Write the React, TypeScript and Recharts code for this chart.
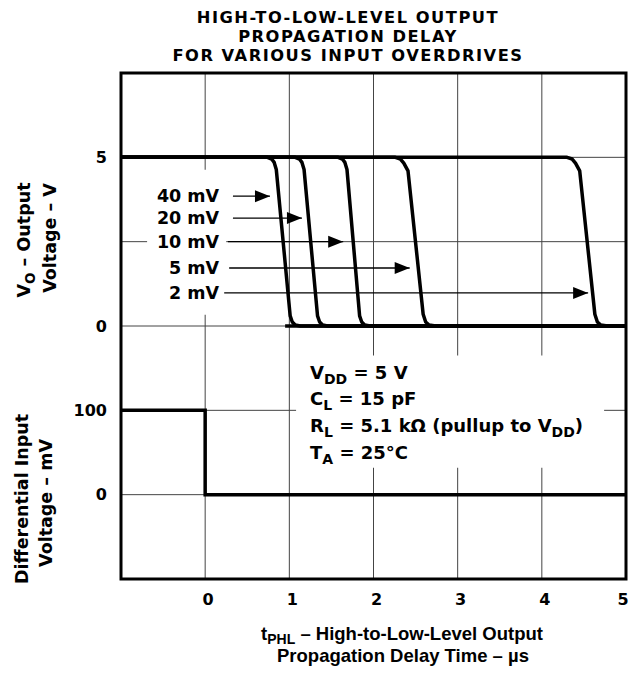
import React from 'react';
import {
  ComposedChart,
  Line,
  XAxis,
  YAxis,
  CartesianGrid,
  ReferenceArea,
  ReferenceDot,
  ReferenceLine,
} from 'recharts';

const FONT = '"DejaVu Sans", Verdana, sans-serif';
const ARIAL = '"Liberation Sans", Arial, sans-serif';

// x axis: time in microseconds
const T_TICKS = [0, 1, 2, 3, 4, 5];
// upper panel (output voltage, V); grid rows every 2.5 V
const V_TICKS = [-5, -2.5, 0, 2.5, 5];
const V_LABELED = [0, 5];
// lower panel (differential input, mV)
const MV_LABELS = [100, 0];

// output curves, one per input overdrive
const OUT_40MV = [
  { t: -1, v: 5 }, { t: 0.74, v: 5 }, { t: 0.79, v: 4.95 }, { t: 0.82, v: 4.85 },
  { t: 0.845, v: 4.64 }, { t: 1.01, v: 0.3 }, { t: 1.035, v: 0.12 }, { t: 1.07, v: 0.03 },
  { t: 1.13, v: 0 }, { t: 5, v: 0 },
];
const OUT_20MV = [
  { t: -1, v: 5 }, { t: 1.07, v: 5 }, { t: 1.12, v: 4.95 }, { t: 1.15, v: 4.85 },
  { t: 1.175, v: 4.64 }, { t: 1.335, v: 0.3 }, { t: 1.36, v: 0.12 }, { t: 1.395, v: 0.03 },
  { t: 1.455, v: 0 }, { t: 5, v: 0 },
];
const OUT_10MV = [
  { t: -1, v: 5 }, { t: 1.58, v: 5 }, { t: 1.63, v: 4.95 }, { t: 1.66, v: 4.85 },
  { t: 1.685, v: 4.64 }, { t: 1.835, v: 0.3 }, { t: 1.86, v: 0.12 }, { t: 1.895, v: 0.03 },
  { t: 1.96, v: 0 }, { t: 5, v: 0 },
];
const OUT_5MV = [
  { t: -1, v: 5 }, { t: 2.26, v: 5 }, { t: 2.32, v: 4.95 }, { t: 2.36, v: 4.83 },
  { t: 2.41, v: 4.6 }, { t: 2.59, v: 0.35 }, { t: 2.62, v: 0.12 }, { t: 2.66, v: 0.03 },
  { t: 2.74, v: 0 }, { t: 5, v: 0 },
];
const OUT_2MV = [
  { t: -1, v: 5 }, { t: 4.3, v: 5 }, { t: 4.36, v: 4.95 }, { t: 4.4, v: 4.83 },
  { t: 4.45, v: 4.6 }, { t: 4.63, v: 0.35 }, { t: 4.66, v: 0.12 }, { t: 4.7, v: 0.03 },
  { t: 4.78, v: 0 }, { t: 5, v: 0 },
];
const OUT_BASE = [{ t: 0.95, v: 0 }, { t: 5, v: 0 }];
const OUTPUTS = [OUT_40MV, OUT_20MV, OUT_10MV, OUT_5MV, OUT_2MV, OUT_BASE];

// input step
const INPUT_MV = [
  { t: -1, mv: 100 }, { t: 0, mv: 100 }, { t: 0, mv: 0 }, { t: 5, mv: 0 },
];

// arrow annotations
const OVERDRIVES = ['40 mV', '20 mV', '10 mV', '5 mV', '2 mV'];
const ARROW_V = [3.85, 3.2, 2.5, 1.72, 0.98];
const ARROW_FROM = [0.33, 0.33, 0.27, 0.285, 0.226];
const ARROW_TIP = [0.77, 1.15, 1.64, 2.43, 4.55];
const LABEL_T = 0.178;

const arrows = OVERDRIVES.map((name, i) => [
  { t: ARROW_FROM[i], v: ARROW_V[i] },
  { t: ARROW_TIP[i], v: ARROW_V[i] },
]);

const bold = { fill: '#000', fontWeight: 'bold', fontFamily: FONT };

const ArrowHead = (props: any) => {
  const { cx, cy, index } = props;
  if (index !== 1 || cx == null) return <g key={`a${index}`} />;
  return (
    <polygon
      key={`a${index}`}
      points={`${cx},${cy} ${cx - 15},${cy - 6} ${cx - 15},${cy + 6}`}
      fill="#000"
    />
  );
};

// x tick labels sit a little right of their grid line, the last one stays inside
const TimeTick = (props: any) => {
  const { x, y, payload } = props;
  const dx = payload.value === 5 ? -3 : 3;
  return (
    <text x={x + dx} y={y} dy={12} textAnchor="middle" {...bold} fontSize={16}>
      {payload.value}
    </text>
  );
};

const Conditions = (props: any) => {
  const vb = props.viewBox || {};
  const x = vb.x + 14;
  const y = vb.y;
  const st = { ...bold, fontSize: 18 };
  return (
    <g>
      <text x={x} y={y + 23} {...st}>
        V<tspan fontSize={14} dy={5}>DD</tspan><tspan dy={-5}> = 5 V</tspan>
      </text>
      <text x={x} y={y + 49} {...st}>
        C<tspan fontSize={14} dy={5}>L</tspan><tspan dy={-5}> = 15 pF</tspan>
      </text>
      <text x={x} y={y + 76} {...st}>
        R<tspan fontSize={14} dy={5}>L</tspan>
        <tspan dy={-5}> = 5.1 kΩ (pullup to V</tspan>
        <tspan fontSize={14} dy={5}>DD</tspan><tspan dy={-5}>)</tspan>
      </text>
      <text x={x} y={y + 103} {...st}>
        T<tspan fontSize={14} dy={5}>A</tspan><tspan dy={-5}> = 25°C</tspan>
      </text>
    </g>
  );
};

export default function App() {
  return (
    <div style={{ position: 'absolute', left: 0, top: 0, width: 630, height: 677, background: '#fff' }}>
      <ComposedChart width={630} height={677} margin={{ top: 73, right: 4, bottom: 0, left: 0 }}>
        <CartesianGrid yAxisId="v" stroke="#444" strokeWidth={1} />
        <XAxis
          dataKey="t"
          type="number"
          domain={[-1, 5]}
          ticks={T_TICKS}
          interval={0}
          height={98}
          tickLine={false}
          axisLine={false}
          tickSize={0}
          tickMargin={14}
          tick={<TimeTick />}
          allowDataOverflow
        />
        <YAxis
          yAxisId="v"
          type="number"
          domain={[-7.5, 7.5]}
          ticks={V_TICKS}
          interval={0}
          width={121}
          tickFormatter={(v: number) => (V_LABELED.includes(v) ? String(v) : '')}
          tickLine={false}
          axisLine={false}
          tickSize={0}
          tickMargin={14}
          tick={{ ...bold, fontSize: 16 }}
          allowDataOverflow
        />
        <YAxis yAxisId="mv" hide width={0} type="number" domain={[-100, 500]} allowDataOverflow />

        <ReferenceArea yAxisId="v" x1={-0.69} x2={0.25} y1={0.33} y2={4.63} fill="#fff" fillOpacity={1} stroke="none" />
        <ReferenceArea
          yAxisId="mv"
          x1={1.08}
          x2={4.74}
          y1={32}
          y2={165}
          fill="#fff"
          fillOpacity={1}
          stroke="none"
          label={{ content: (p: any) => <Conditions {...p} /> }}
        />
        <ReferenceArea yAxisId="v" x1={-1} x2={5} y1={-7.5} y2={7.5} fill="none" fillOpacity={0} stroke="#000" strokeWidth={3} />

        {MV_LABELS.map((mv) => (
          <ReferenceLine
            key={`mv${mv}`}
            yAxisId="mv"
            y={mv}
            stroke="none"
            label={{ value: String(mv), position: 'left', offset: 14, ...bold, fontSize: 16 }}
          />
        ))}

        {OUTPUTS.map((d, i) => (
          <Line
            key={`out${i}`}
            data={d}
            dataKey="v"
            yAxisId="v"
            type="linear"
            stroke="#000"
            strokeWidth={3.5}
            strokeLinejoin="round"
            dot={false}
            activeDot={false}
            isAnimationActive={false}
          />
        ))}
        <Line
          data={INPUT_MV}
          dataKey="mv"
          yAxisId="mv"
          type="linear"
          stroke="#000"
          strokeWidth={3.5}
          dot={false}
          activeDot={false}
          isAnimationActive={false}
        />
        {arrows.map((d, i) => (
          <Line
            key={`arr${i}`}
            data={d}
            dataKey="v"
            yAxisId="v"
            type="linear"
            stroke="#000"
            strokeWidth={1.3}
            dot={ArrowHead}
            activeDot={false}
            isAnimationActive={false}
          />
        ))}
        {OVERDRIVES.map((name, i) => (
          <ReferenceDot
            key={`lbl${i}`}
            yAxisId="v"
            x={LABEL_T}
            y={ARROW_V[i]}
            r={1}
            fill="none"
            stroke="none"
            label={{ value: name, position: 'left', offset: 0, ...bold, fontSize: 17.5 }}
          />
        ))}
      </ComposedChart>

      <svg width={630} height={677} style={{ position: 'absolute', left: 0, top: 0, pointerEvents: 'none' }}>
        <g {...bold} fontSize={16.3} letterSpacing={1.5} textAnchor="middle">
          <text x={348} y={23}>HIGH-TO-LOW-LEVEL OUTPUT</text>
          <text x={348} y={42}>PROPAGATION DELAY</text>
          <text x={348} y={61}>FOR VARIOUS INPUT OVERDRIVES</text>
        </g>
        <g {...bold} fontSize={17.5} textAnchor="middle">
          <text x={30} y={240} transform="rotate(-90 30 240)">
            V<tspan fontSize={13.5} dy={5}>O</tspan><tspan dy={-5}> – Output</tspan>
          </text>
          <text x={56} y={238} transform="rotate(-90 56 238)">Voltage – V</text>
          <text x={28} y={499} transform="rotate(-90 28 499)">Differential Input</text>
          <text x={52} y={503} transform="rotate(-90 52 503)">Voltage – mV</text>
        </g>
        <g fill="#000" fontWeight="bold" fontFamily={ARIAL} fontSize={18.5} textAnchor="middle">
          <text x={402} y={640}>
            t<tspan fontSize={14} dy={4}>PHL</tspan><tspan dy={-4}> – High-to-Low-Level Output</tspan>
          </text>
          <text x={403} y={662}>Propagation Delay Time – µs</text>
        </g>
      </svg>
    </div>
  );
}
